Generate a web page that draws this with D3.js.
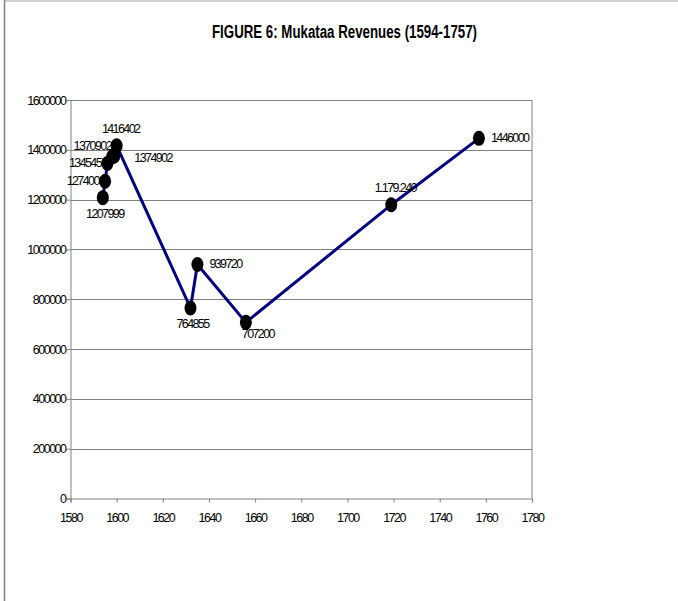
<!DOCTYPE html>
<html>
<head>
<meta charset="utf-8">
<script src="https://cdn.jsdelivr.net/npm/d3@7"></script>
<style>
  body { margin: 0; background: #fff; }
  text { font-family: "Liberation Sans", Arial, sans-serif; fill: #000; }
</style>
</head>
<body>
<div id="chart"></div>
<script>
// Mukataa revenues, figure 6
const years = [1594, 1595, 1596, 1598, 1599, 1600, 1632, 1635, 1656, 1719, 1757];
const revenues = [1207999, 1274000, 1345450, 1370902, 1374902, 1416402, 764855, 939720, 707200, 1179240, 1446000];
const labels = ["1207999", "1274000", "1345450", "1370902", "1374902", "1416402", "764855", "939720", "707200", "1.179.240", "1446000"];
const xTicks = [1580, 1600, 1620, 1640, 1660, 1680, 1700, 1720, 1740, 1760, 1780];
const yTicks = [0, 200000, 400000, 600000, 800000, 1000000, 1200000, 1400000, 1600000];

// where each label sits relative to its marker
const labelPlace = ["below", "left", "left", "aboveLeft", "farRight", "above", "below", "right", "belowRight", "above", "right"];

const places = {
    below:      { dx: 2,  dy: 20,  anchor: "middle" },
    belowRight: { dx: 12, dy: 16,  anchor: "middle" },
    left:       { dx: -1, dy: 4,   anchor: "end" },
    aboveLeft:  { dx: -1, dy: -7,  anchor: "end" },
    above:      { dx: 4,  dy: -13, anchor: "middle" },
    right:      { dx: 12, dy: 4,   anchor: "start" },
    farRight:   { dx: 20, dy: 6,   anchor: "start" }
};

const width = 678;
const height = 601;

const svg = d3.select("#chart")
    .append("svg")
    .attr("width", width)
    .attr("height", height);

// outer frame (left and top edges are visible)
svg.append("line").attr("x1", 4.5).attr("x2", 4.5).attr("y1", 0).attr("y2", height)
    .attr("stroke", "#808080").attr("stroke-width", 1.5);
svg.append("line").attr("x1", 4).attr("x2", width).attr("y1", 1).attr("y2", 1)
    .attr("stroke", "#a0a0a0").attr("stroke-width", 1);

svg.append("text")
    .attr("x", 212)
    .attr("y", 38)
    .attr("font-size", 18)
    .attr("font-weight", "bold")
    .attr("textLength", 265)
    .attr("lengthAdjust", "spacingAndGlyphs")
    .text("FIGURE 6: Mukataa Revenues (1594-1757)");

const x = d3.scaleLinear().domain([1580, 1780]).range([70.5, 532]);
const y = d3.scaleLinear().domain([0, 1600000]).range([498.5, 100]);

// gridlines
svg.append("g")
    .selectAll("line")
    .data(yTicks.filter(d => d > 0))
    .enter()
    .append("line")
    .attr("x1", x(1580))
    .attr("x2", x(1780))
    .attr("y1", d => Math.round(y(d)) + 0.5)
    .attr("y2", d => Math.round(y(d)) + 0.5)
    .attr("stroke", "#808080")
    .attr("stroke-width", 1);

// right edge of plot area
svg.append("line")
    .attr("x1", x(1780)).attr("x2", x(1780))
    .attr("y1", y(1600000)).attr("y2", y(0))
    .attr("stroke", "#808080");

const xAxis = svg.append("g")
    .attr("transform", `translate(0,${y(0)})`)
    .call(d3.axisBottom(x).tickValues(xTicks).tickFormat(d3.format("d")).tickSize(4).tickPadding(11));

const yAxis = svg.append("g")
    .attr("transform", `translate(${x(1580)},0)`)
    .call(d3.axisLeft(y).tickValues(yTicks).tickFormat(d3.format("d")).tickSize(4).tickPadding(1));

[xAxis, yAxis].forEach(g => {
    g.select(".domain").attr("stroke", "#808080");
    g.selectAll(".tick line").attr("stroke", "#808080");
    g.selectAll(".tick text")
        .attr("font-family", "Liberation Sans, Arial, sans-serif")
        .attr("font-size", 12.5)
        .attr("letter-spacing", "-1.5px")
        .attr("fill", "#000");
});

const points = years.map((yr, i) => ({ year: yr, value: revenues[i], label: labels[i], place: places[labelPlace[i]] }));

const line = d3.line()
    .x(d => x(d.year))
    .y(d => y(d.value));

svg.append("path")
    .datum(points)
    .attr("d", line)
    .attr("fill", "none")
    .attr("stroke", "#000080")
    .attr("stroke-width", 3)
    .attr("stroke-linejoin", "round");

// data labels
svg.append("g")
    .selectAll("text")
    .data(points)
    .enter()
    .append("text")
    .attr("x", d => x(d.year) + d.place.dx)
    .attr("y", d => y(d.value) + d.place.dy)
    .attr("text-anchor", d => d.place.anchor)
    .attr("font-size", 12.5)
    .attr("letter-spacing", "-1.6px")
    .text(d => d.label);

svg.append("g")
    .selectAll("ellipse")
    .data(points)
    .enter()
    .append("ellipse")
    .attr("cx", d => x(d.year))
    .attr("cy", d => y(d.value))
    .attr("rx", 6)
    .attr("ry", 7.5)
    .attr("fill", "#000");
</script>
</body>
</html>
